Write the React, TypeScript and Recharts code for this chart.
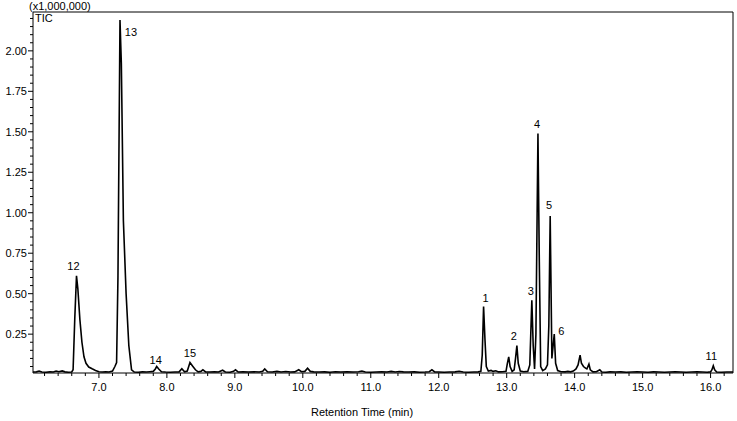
import React from 'react';
import { LineChart, Line, XAxis, YAxis, ReferenceLine, LabelList, Label } from 'recharts';

// retention time (min), TIC intensity (x1,000,000)
const earlyRegion: [number, number][] = [
  [6.03, 0.016], [6.08, 0.017], [6.12, 0.022], [6.16, 0.016], [6.22, 0.015], [6.28, 0.017],
  [6.33, 0.016], [6.37, 0.022], [6.41, 0.018], [6.46, 0.023], [6.5, 0.017], [6.55, 0.015],
  [6.6, 0.016], [6.62, 0.03], [6.645, 0.35], [6.67, 0.61], [6.69, 0.53], [6.72, 0.34],
  [6.75, 0.2], [6.78, 0.11], [6.81, 0.07], [6.85, 0.047], [6.9, 0.036], [6.95, 0.026],
  [7.0, 0.018], [7.05, 0.016], [7.1, 0.017], [7.15, 0.016], [7.2, 0.022], [7.235, 0.05],
  [7.26, 0.075], [7.28, 0.6], [7.31, 2.19], [7.33, 1.92], [7.36, 0.95], [7.4, 0.5],
  [7.44, 0.18], [7.48, 0.03], [7.52, 0.016], [7.58, 0.015], [7.64, 0.017], [7.7, 0.016],
  [7.75, 0.018], [7.8, 0.02], [7.83, 0.035], [7.85, 0.05], [7.88, 0.035], [7.92, 0.018],
  [7.98, 0.016], [8.05, 0.015], [8.12, 0.016], [8.18, 0.017], [8.22, 0.036], [8.26, 0.017],
  [8.3, 0.022], [8.34, 0.075], [8.38, 0.052], [8.42, 0.03], [8.46, 0.017], [8.5, 0.02],
  [8.53, 0.03], [8.57, 0.017], [8.63, 0.016], [8.7, 0.017], [8.76, 0.016], [8.82, 0.027],
  [8.86, 0.016], [8.93, 0.015], [8.98, 0.02], [9.01, 0.03], [9.05, 0.016],
];

const midRegion: [number, number][] = [
  [9.12, 0.017], [9.2, 0.016], [9.28, 0.018], [9.36, 0.016], [9.41, 0.02], [9.44, 0.035],
  [9.48, 0.018], [9.55, 0.016], [9.62, 0.02], [9.68, 0.016], [9.75, 0.019], [9.82, 0.016],
  [9.88, 0.017], [9.94, 0.03], [9.98, 0.018], [10.03, 0.02], [10.07, 0.04], [10.11, 0.02],
  [10.16, 0.017], [10.24, 0.016], [10.32, 0.017], [10.4, 0.015], [10.48, 0.018], [10.56, 0.016],
  [10.65, 0.017], [10.74, 0.016], [10.82, 0.018], [10.87, 0.022], [10.92, 0.016], [11.0, 0.015],
  [11.08, 0.016], [11.16, 0.017], [11.24, 0.016], [11.3, 0.02], [11.36, 0.016], [11.42, 0.019],
  [11.48, 0.017], [11.56, 0.016], [11.64, 0.017], [11.72, 0.015], [11.8, 0.016], [11.86, 0.018],
  [11.9, 0.03], [11.94, 0.017], [12.0, 0.016], [12.08, 0.015], [12.16, 0.016], [12.24, 0.017],
  [12.3, 0.021], [12.36, 0.016], [12.44, 0.015], [12.52, 0.016], [12.58, 0.017],
];

const lateRegion: [number, number][] = [
  [12.62, 0.02], [12.64, 0.12], [12.66, 0.42], [12.68, 0.22], [12.7, 0.05], [12.73, 0.022],
  [12.77, 0.026], [12.8, 0.02], [12.84, 0.024], [12.88, 0.017], [12.94, 0.018], [12.99, 0.02],
  [13.01, 0.07], [13.03, 0.11], [13.05, 0.05], [13.08, 0.02], [13.11, 0.03], [13.13, 0.1],
  [13.15, 0.18], [13.17, 0.07], [13.2, 0.022], [13.25, 0.018], [13.31, 0.02], [13.34, 0.06],
  [13.37, 0.46], [13.39, 0.18], [13.41, 0.035], [13.43, 0.25], [13.46, 1.49], [13.48, 0.7],
  [13.5, 0.05], [13.53, 0.025], [13.57, 0.035], [13.6, 0.06], [13.62, 0.3], [13.64, 0.98],
  [13.665, 0.1], [13.7, 0.25], [13.72, 0.07], [13.75, 0.025], [13.8, 0.018], [13.86, 0.017],
  [13.9, 0.02], [13.94, 0.017], [13.98, 0.022], [14.02, 0.035], [14.05, 0.06], [14.08, 0.12],
  [14.1, 0.07], [14.13, 0.05], [14.16, 0.04], [14.18, 0.035], [14.21, 0.065], [14.23, 0.03],
  [14.27, 0.017], [14.32, 0.018], [14.37, 0.03], [14.4, 0.016], [14.46, 0.015], [14.52, 0.017],
  [14.6, 0.016], [14.68, 0.017], [14.76, 0.015], [14.84, 0.016], [14.92, 0.017], [15.0, 0.016],
  [15.08, 0.015], [15.16, 0.017], [15.24, 0.016], [15.32, 0.015], [15.4, 0.016], [15.48, 0.017],
  [15.56, 0.016], [15.64, 0.015], [15.72, 0.016], [15.8, 0.017], [15.88, 0.016], [15.95, 0.015],
  [16.0, 0.017], [16.02, 0.03], [16.04, 0.055], [16.06, 0.03], [16.09, 0.016], [16.16, 0.015],
  [16.24, 0.016], [16.33, 0.016],
];

const peakNames = ['12', '13', '14', '15', '1', '2', '3', '4', '5', '6', '11'];
const peakTimes = [6.67, 7.31, 7.85, 8.34, 12.66, 13.15, 13.37, 13.46, 13.64, 13.7, 16.04];

const xTicks = [
  6.2, 6.4, 6.6, 6.8, 7.0, 7.2, 7.4, 7.6, 7.8, 8.0, 8.2, 8.4, 8.6, 8.8, 9.0, 9.2, 9.4, 9.6, 9.8,
  10.0, 10.2, 10.4, 10.6, 10.8, 11.0, 11.2, 11.4, 11.6, 11.8, 12.0, 12.2, 12.4, 12.6, 12.8,
  13.0, 13.2, 13.4, 13.6, 13.8, 14.0, 14.2, 14.4, 14.6, 14.8, 15.0, 15.2, 15.4, 15.6, 15.8,
  16.0, 16.2,
];
const xLabels = [7.0, 8.0, 9.0, 10.0, 11.0, 12.0, 13.0, 14.0, 15.0, 16.0];

const yTicks = [
  0.05, 0.1, 0.15, 0.2, 0.25, 0.3, 0.35, 0.4, 0.45, 0.5, 0.55, 0.6, 0.65, 0.7, 0.75, 0.8, 0.85,
  0.9, 0.95, 1.0, 1.05, 1.1, 1.15, 1.2, 1.25, 1.3, 1.35, 1.4, 1.45, 1.5, 1.55, 1.6, 1.65, 1.7,
  1.75, 1.8, 1.85, 1.9, 1.95, 2.0, 2.05, 2.1, 2.15, 2.2,
];
const yLabels = [0.25, 0.5, 0.75, 1.0, 1.25, 1.5, 1.75, 2.0];

const xDomain: [number, number] = [6.03, 16.33];
const yDomain: [number, number] = [0.01, 2.24];

// label offsets relative to the apex, in px
const labelOffset: Record<string, [number, number]> = {
  '12': [-3, -10], '13': [11, 12], '14': [-1, -7], '15': [0, -9], '1': [2, -9], '2': [-3, -9],
  '3': [-1, -9], '4': [-1, -9], '5': [-1, -11], '6': [7, -3], '11': [-2, -10],
};

const font = '"Liberation Sans", Arial, sans-serif';

const rows = [...earlyRegion, ...midRegion, ...lateRegion].map(([rt, tic]) => {
  const i = peakTimes.indexOf(rt);
  return { rt, tic, peak: i >= 0 ? peakNames[i] : undefined };
});

const isLabel = (list: number[], v: number) => list.some((l) => Math.abs(l - v) < 1e-6);

const XTick = (props: any) => {
  const { x, y, payload } = props;
  const major = isLabel(xLabels, payload.value);
  return (
    <g>
      <line x1={x} x2={x} y1={y} y2={y + (major ? 5 : 3)} stroke="#000" strokeWidth={1} />
      {major && (
        <text x={x} y={y + 18} textAnchor="middle" fontSize={11} fontFamily={font} fill="#000">
          {payload.value.toFixed(1)}
        </text>
      )}
    </g>
  );
};

const YTick = (props: any) => {
  const { x, y, payload } = props;
  const major = isLabel(yLabels, payload.value);
  return (
    <g>
      <line x1={x - (major ? 5 : 3)} x2={x} y1={y} y2={y} stroke="#000" strokeWidth={1} />
      {major && (
        <text x={x - 6} y={y + 4} textAnchor="end" fontSize={11} fontFamily={font} fill="#000">
          {payload.value.toFixed(2)}
        </text>
      )}
    </g>
  );
};

const PeakLabel = (props: any) => {
  const { x, y, value } = props;
  if (value == null) return null;
  const [dx, dy] = labelOffset[value] || [0, -9];
  return (
    <text x={x + dx} y={y + dy} textAnchor="middle" dominantBaseline="central" fontSize={11} fontFamily={font} fill="#000" stroke="none">
      {value}
    </text>
  );
};

const TopCaption = (props: any) => {
  const { viewBox } = props;
  const x0 = viewBox.x;
  const y0 = viewBox.y;
  return (
    <g fontFamily={font} fontSize={11} fill="#000">
      <text x={x0 - 4} y={y0 - 2}>(x1,000,000)</text>
      <text x={x0 + 2} y={y0 + 10}>TIC</text>
    </g>
  );
};

export default function App() {
  return (
    <div style={{ position: 'absolute', left: 0, top: 0, background: '#fff' }}>
      <LineChart width={737} height={421} data={rows} margin={{ top: 12, right: 4, bottom: 0, left: 0 }}>
        <XAxis
          dataKey="rt"
          type="number"
          domain={xDomain}
          allowDataOverflow
          ticks={xTicks}
          interval={0}
          tick={<XTick />}
          tickLine={false}
          tickSize={0}
          tickMargin={0}
          height={48}
          axisLine={{ stroke: '#000', strokeWidth: 1 }}
        >
          <Label
            value="Retention Time (min)"
            position="insideBottom"
            offset={5}
            dx={-21}
            style={{ fontFamily: font, fontSize: 11, fill: '#000' }}
          />
        </XAxis>
        <YAxis
          type="number"
          domain={yDomain}
          allowDataOverflow
          ticks={yTicks}
          interval={0}
          tick={<YTick />}
          tickLine={false}
          tickSize={0}
          tickMargin={0}
          width={33}
          axisLine={{ stroke: '#000', strokeWidth: 1 }}
        />
        <ReferenceLine y={yDomain[1]} stroke="#000" strokeWidth={1} label={<TopCaption />} />
        <ReferenceLine x={xDomain[1]} stroke="#000" strokeWidth={1} />
        <Line
          dataKey="tic"
          type="linear"
          stroke="#000"
          strokeWidth={1.6}
          dot={false}
          activeDot={false}
          isAnimationActive={false}
        >
          <LabelList dataKey="peak" content={<PeakLabel />} />
        </Line>
      </LineChart>
    </div>
  );
}
